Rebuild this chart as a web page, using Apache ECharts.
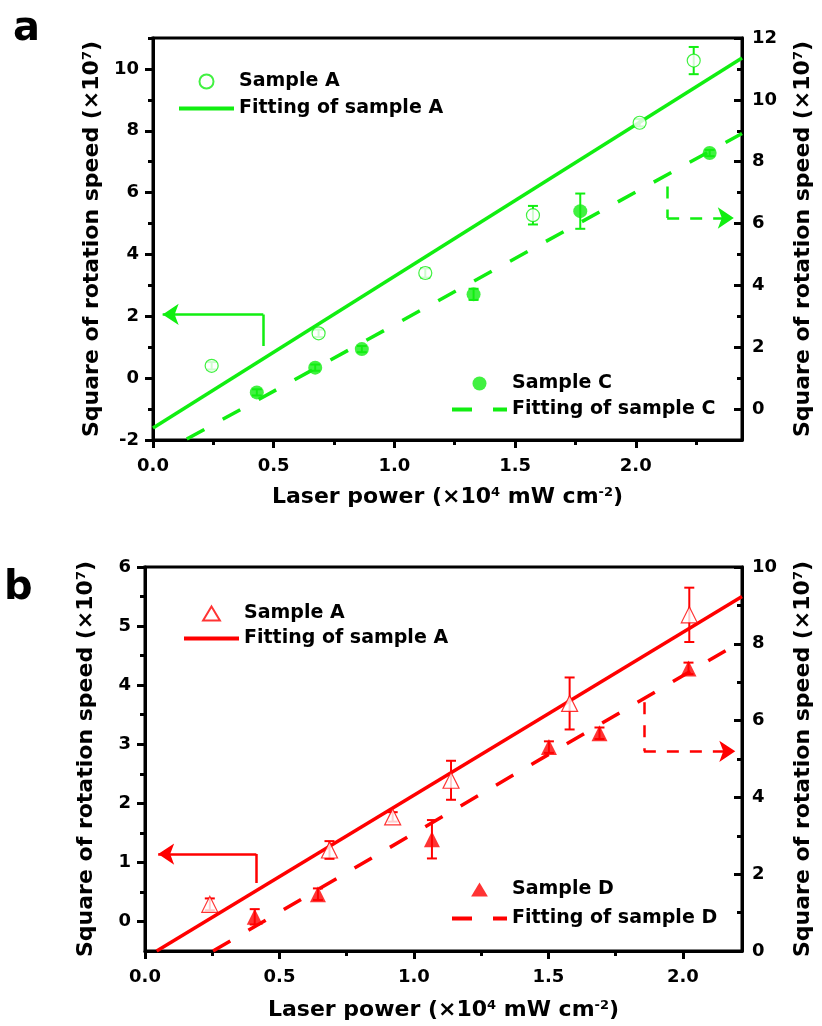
<!DOCTYPE html>
<html><head><meta charset="utf-8">
<script src="https://cdn.jsdelivr.net/npm/echarts@6/dist/echarts.min.js"></script>
<style>html,body{margin:0;padding:0;background:#fff}#c{width:822px;height:1026px}</style>
</head><body><div id="c"></div><script>
// ---------- Panel a data ----------
const aPowerA = [0.243, 0.686, 1.128, 1.574, 2.016, 2.240];
const aSpeedA = [0.40, 1.45, 3.40, 5.27, 8.26, 10.27];
const aErrA   = [0.12, 0.12, 0.15, 0.30, 0.12, 0.44];
const aPowerC = [0.430, 0.672, 0.865, 1.328, 1.770, 2.306];
const aSpeedC = [0.54, 1.34, 1.94, 3.71, 6.40, 8.28];   // right axis
const aErrC   = [0.10, 0.10, 0.10, 0.18, 0.57, 0.10];
const aFitAx = [0, 2.44], aFitAy = [-1.61, 10.35];
const aFitCx = [0.14, 2.44], aFitCy = [-0.97, 8.91];
// ---------- Panel b data ----------
const bPowerA = [0.241, 0.686, 0.921, 1.138, 1.579, 2.024];
const bSpeedA = [0.29, 1.21, 1.77, 2.39, 3.69, 5.19];
const bErrA   = [0.10, 0.15, 0.08, 0.33, 0.44, 0.46];
const bPowerD = [0.408, 0.643, 1.067, 1.502, 1.690, 2.021];
const bSpeedD = [0.89, 1.48, 2.91, 5.31, 5.67, 7.36];   // right axis
const bErrD   = [0.20, 0.15, 0.50, 0.15, 0.15, 0.15];
const bFitAx = [0.0434, 2.22], bFitAy = [-0.5, 5.50];
const bFitDx = [0.253, 2.22], bFitDy = [0, 8.07];
// ---------- ticks ----------
const aXMajor = [0, 0.5, 1, 1.5, 2], aXMinor = [0.25, 0.75, 1.25, 1.75, 2.25];
const aYLMajor = [-2, 0, 2, 4, 6, 8, 10], aYLMinor = [-1, 1, 3, 5, 7, 9, 11];
const aYRMajor = [0, 2, 4, 6, 8, 10, 12], aYRMinor = [1, 3, 5, 7, 9, 11];
const bXMajor = [0, 0.5, 1, 1.5, 2], bXMinor = [0.25, 0.75, 1.25, 1.75];
const bYLMajor = [0, 1, 2, 3, 4, 5, 6], bYLMinor = [0.5, 1.5, 2.5, 3.5, 4.5, 5.5];
const bYRMajor = [0, 2, 4, 6, 8, 10], bYRMinor = [1, 3, 5, 7, 9];
// ---------- annotation arrows (data coords) ----------
const aArrowL = [[0.457, 1.04], [0.457, 2.06], [0.04, 2.06]];
const aArrowR = [[2.13, 7.2], [2.13, 6.18], [2.406, 6.18]];
const bArrowL = [[0.414, 0.65], [0.414, 1.14], [0.049, 1.14]];
const bArrowR = [[1.855, 6.48], [1.855, 5.20], [2.195, 5.20]];

const GREEN = '#11ee11', RED = '#ff0000';
const FONT = 'DejaVu Sans';
const TRI = 'path://M9,0 L18,15 L0,15 Z';
const zip = (xs, ys) => xs.map((x, i) => [x, ys[i]]);
const zip3 = (xs, ys, es) => xs.map((x, i) => [x, ys[i], es[i]]);

const yTitle = 'Square of rotation speed (×10{sup|7})';
const xTitle = 'Laser power (×10{sup|4} mW cm{sup|-2})';
const nameStyle = {
  fontFamily: FONT, fontWeight: 'bold', fontSize: 22, color: '#000',
  rich: { sup: { fontFamily: FONT, fontWeight: 'bold', fontSize: 13, verticalAlign: 'top', color: '#000' } }
};
const labelStyle = { fontFamily: FONT, fontWeight: 'bold', fontSize: 18, color: '#000' };

function mainAxis(common, major, extra) {
  return Object.assign({
    type: 'value',
    axisLine: { show: true, onZero: false, lineStyle: { color: '#000', width: 3 } },
    axisTick: { show: true, length: 8, customValues: major, lineStyle: { color: '#000', width: 3 } },
    axisLabel: Object.assign({ customValues: major }, labelStyle),
    splitLine: { show: false },
    nameTextStyle: nameStyle
  }, common, extra);
}
function minorAxis(common, minor, inside) {
  return Object.assign({
    type: 'value',
    axisLine: { show: false, onZero: false },
    axisTick: { show: true, inside: !!inside, length: 5, customValues: minor, lineStyle: { color: '#000', width: 3 } },
    axisLabel: { show: false },
    splitLine: { show: false }
  }, common);
}

const fmt1 = v => v.toFixed(1);

const xAxis = [
  mainAxis({ gridIndex: 0, min: 0, max: 2.44, position: 'bottom' }, aXMajor,
    { name: xTitle, nameLocation: 'middle', nameGap: 46, axisLabel: Object.assign({ customValues: aXMajor, margin: 17, formatter: fmt1 }, labelStyle) }),
  minorAxis({ gridIndex: 0, min: 0, max: 2.44, position: 'bottom' }, aXMinor),
  mainAxis({ gridIndex: 1, min: 0, max: 2.22, position: 'bottom' }, bXMajor,
    { name: xTitle, nameLocation: 'middle', nameGap: 48, axisLabel: Object.assign({ customValues: bXMajor, margin: 17, formatter: fmt1 }, labelStyle) }),
  minorAxis({ gridIndex: 1, min: 0, max: 2.22, position: 'bottom' }, bXMinor)
];
const yAxis = [
  mainAxis({ gridIndex: 0, min: -2, max: 11, position: 'left' }, aYLMajor,
    { name: yTitle, nameLocation: 'middle', nameRotate: 90, nameGap: 50, axisLabel: Object.assign({ customValues: aYLMajor, margin: 14 }, labelStyle) }),
  minorAxis({ gridIndex: 0, min: -2, max: 11, position: 'left' }, aYLMinor),
  mainAxis({ gridIndex: 0, min: -1, max: 12, position: 'right' }, aYRMajor,
    { name: yTitle, nameLocation: 'middle', nameRotate: 90, nameGap: 50,
      axisTick: { show: true, inside: true, length: 8, customValues: aYRMajor, lineStyle: { color: '#000', width: 3 } },
      axisLabel: Object.assign({ customValues: aYRMajor, margin: 10 }, labelStyle) }),
  minorAxis({ gridIndex: 0, min: -1, max: 12, position: 'right' }, aYRMinor, true),
  mainAxis({ gridIndex: 1, min: -0.5, max: 6, position: 'left' }, bYLMajor,
    { name: yTitle, nameLocation: 'middle', nameRotate: 90, nameGap: 48, axisLabel: Object.assign({ customValues: bYLMajor, margin: 14 }, labelStyle) }),
  minorAxis({ gridIndex: 1, min: -0.5, max: 6, position: 'left' }, bYLMinor),
  mainAxis({ gridIndex: 1, min: 0, max: 10, position: 'right' }, bYRMajor,
    { name: yTitle, nameLocation: 'middle', nameRotate: 90, nameGap: 50,
      axisTick: { show: true, inside: true, length: 8, customValues: bYRMajor, lineStyle: { color: '#000', width: 3 } },
      axisLabel: Object.assign({ customValues: bYRMajor, margin: 10 }, labelStyle) }),
  minorAxis({ gridIndex: 1, min: 0, max: 10, position: 'right' }, bYRMinor, true)
];

function errSeries(data, color, xi, yi) {
  return {
    type: 'custom', xAxisIndex: xi, yAxisIndex: yi, z: 2, silent: true,
    encode: { x: 0, y: 1 },
    data: data,
    renderItem: function (params, api) {
      const x = api.value(0), y = api.value(1), e = api.value(2);
      const t = api.coord([x, y + e]), b = api.coord([x, y - e]);
      const st = { stroke: color, lineWidth: 2 };
      const cw = 5;
      return { type: 'group', children: [
        { type: 'line', shape: { x1: t[0], y1: t[1], x2: b[0], y2: b[1] }, style: st },
        { type: 'line', shape: { x1: t[0] - cw, y1: t[1], x2: t[0] + cw, y2: t[1] }, style: st },
        { type: 'line', shape: { x1: b[0] - cw, y1: b[1], x2: b[0] + cw, y2: b[1] }, style: st }
      ] };
    }
  };
}
function arrowSeries(pts, color, dashed, xi, yi) {
  const lt = { color: color, width: 2.5, type: dashed ? [12, 11] : 'solid', opacity: 1 };
  return [
    { type: 'lines', coordinateSystem: 'cartesian2d', xAxisIndex: xi, yAxisIndex: yi, silent: true,
      symbol: ['none', 'none'], lineStyle: lt, data: [{ coords: [pts[0], pts[1]] }], z: 3 },
    { type: 'lines', coordinateSystem: 'cartesian2d', xAxisIndex: xi, yAxisIndex: yi, silent: true,
      symbol: ['none', 'arrow'], symbolSize: [10, 16], lineStyle: lt, data: [{ coords: [pts[1], pts[2]] }], z: 3 }
  ];
}

const series = [
  // panel a
  errSeries(zip3(aPowerA, aSpeedA, aErrA), GREEN, 0, 0),
  errSeries(zip3(aPowerC, aSpeedC, aErrC), GREEN, 0, 2),
  { name: 'a|Fitting of sample A', type: 'line', xAxisIndex: 0, yAxisIndex: 0, symbol: 'none', z: 3,
    lineStyle: { color: GREEN, width: 3.5 }, itemStyle: { color: GREEN }, data: zip(aFitAx, aFitAy) },
  { name: 'a|Fitting of sample C', type: 'line', xAxisIndex: 0, yAxisIndex: 2, symbol: 'none', z: 3,
    lineStyle: { color: GREEN, width: 3.5, type: [20, 21] }, itemStyle: { color: GREEN }, data: zip(aFitCx, aFitCy) },
  { name: 'a|Sample A', type: 'scatter', xAxisIndex: 0, yAxisIndex: 0, symbol: 'circle', symbolSize: 13, z: 4,
    itemStyle: { color: '#fff', borderColor: GREEN, borderWidth: 1.2 }, data: zip(aPowerA, aSpeedA) },
  { name: 'a|Sample C', type: 'scatter', xAxisIndex: 0, yAxisIndex: 2, symbol: 'circle', symbolSize: 14, z: 4,
    itemStyle: { color: GREEN }, data: zip(aPowerC, aSpeedC) },
  ...arrowSeries(aArrowL, GREEN, false, 0, 0),
  ...arrowSeries(aArrowR, GREEN, true, 0, 2),
  // panel b
  errSeries(zip3(bPowerA, bSpeedA, bErrA), RED, 2, 4),
  errSeries(zip3(bPowerD, bSpeedD, bErrD), RED, 2, 6),
  { name: 'b|Fitting of sample A', type: 'line', xAxisIndex: 2, yAxisIndex: 4, symbol: 'none', z: 3,
    lineStyle: { color: RED, width: 3.5 }, itemStyle: { color: RED }, data: zip(bFitAx, bFitAy) },
  { name: 'b|Fitting of sample D', type: 'line', xAxisIndex: 2, yAxisIndex: 6, symbol: 'none', z: 3,
    lineStyle: { color: RED, width: 3.5, type: [20, 21] }, itemStyle: { color: RED }, data: zip(bFitDx, bFitDy) },
  { name: 'b|Sample A', type: 'scatter', xAxisIndex: 2, yAxisIndex: 4, symbol: 'triangle', symbolSize: 16, z: 4,
    itemStyle: { color: '#fff', borderColor: RED, borderWidth: 1.2 }, data: zip(bPowerA, bSpeedA) },
  { name: 'b|Sample D', type: 'scatter', xAxisIndex: 2, yAxisIndex: 6, symbol: 'triangle', symbolSize: 16, z: 4,
    itemStyle: { color: RED }, data: zip(bPowerD, bSpeedD) },
  ...arrowSeries(bArrowL, RED, false, 2, 4),
  ...arrowSeries(bArrowR, RED, true, 2, 6)
];

function legend(names, left, top, gap, icon) {
  const first = { name: names[0] };
  if (icon) first.icon = icon;
  return {
    data: [first, { name: names[1], itemStyle: { opacity: 0 } }],
    left: left, top: top, orient: 'vertical',
    itemWidth: 55, itemHeight: 14, itemGap: gap, padding: 0,
    selectedMode: false, symbolKeepAspect: true,
    lineStyle: { width: 4 },
    formatter: n => n.split('|')[1],
    textStyle: { fontFamily: FONT, fontWeight: 'bold', fontSize: 19, color: '#000' }
  };
}

const option = {
  animation: false,
  backgroundColor: '#fff',
  grid: [
    { left: 153, right: 80, top: 38, height: 402, show: true, borderColor: '#000', borderWidth: 3, backgroundColor: 'transparent' },
    { left: 145, right: 79, top: 567, height: 384, show: true, borderColor: '#000', borderWidth: 3, backgroundColor: 'transparent' }
  ],
  xAxis: xAxis,
  yAxis: yAxis,
  legend: [
    legend(['a|Sample A', 'a|Fitting of sample A'], 177, 72, 8),
    legend(['a|Sample C', 'a|Fitting of sample C'], 450, 374, 7),
    legend(['b|Sample A', 'b|Fitting of sample A'], 182, 604, 6, TRI),
    legend(['b|Sample D', 'b|Fitting of sample D'], 450, 880, 10, TRI)
  ],
  graphic: [
    { type: 'text', left: 13, top: 10, style: { text: 'a', font: 'bold 40px "DejaVu Sans"', fill: '#000' } },
    { type: 'text', left: 4, top: 569, style: { text: 'b', font: 'bold 40px "DejaVu Sans"', fill: '#000' } }
  ],
  series: series
};
const chart = echarts.init(document.getElementById('c'), null, { renderer: 'canvas' });
chart.setOption(option);
</script></body></html>
